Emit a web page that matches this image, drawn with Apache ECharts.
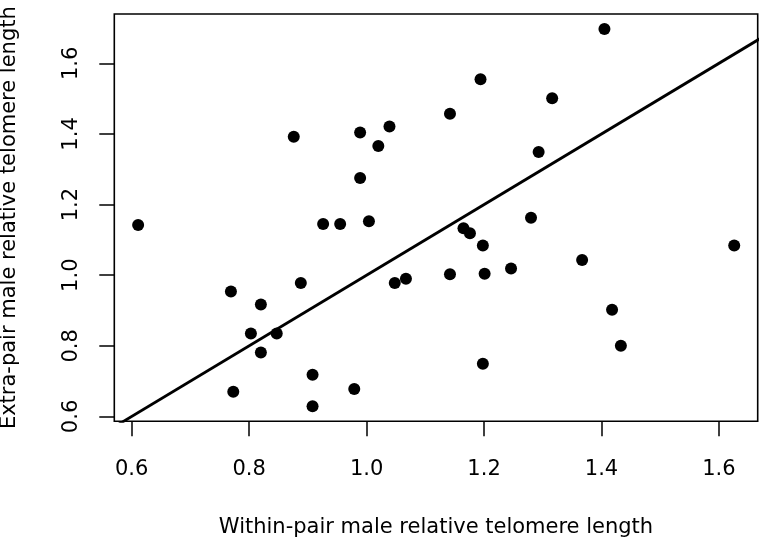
<!DOCTYPE html>
<html>
<head>
<meta charset="utf-8">
<script src="https://cdn.jsdelivr.net/npm/echarts@6/dist/echarts.min.js"></script>
<style>
html,body{margin:0;padding:0;background:#fff;}
#chart{width:759px;height:541px;}
</style>
</head>
<body>
<div id="chart"></div>
<script>
// Within-pair male relative telomere length (x) vs extra-pair male (y)
var withinPair = [0.876,0.989,1.039,1.020,0.989,0.611,0.926,0.955,1.004,1.405,1.194,1.316,1.142,1.293,1.280,0.769,0.888,0.820,1.048,1.067,0.803,0.847,0.820,0.908,0.773,0.979,0.908,1.165,1.176,1.198,1.626,1.367,1.142,1.201,1.246,1.418,1.433,1.198];
var extraPair  = [1.392,1.404,1.421,1.366,1.275,1.142,1.145,1.145,1.153,1.697,1.555,1.501,1.457,1.349,1.163,0.954,0.978,0.917,0.978,0.990,0.835,0.835,0.781,0.718,0.670,0.678,0.629,1.133,1.119,1.084,1.084,1.043,1.003,1.004,1.019,0.902,0.800,0.749];
var xTicks = [0.6,0.8,1.0,1.2,1.4,1.6];
var yTicks = [0.6,0.8,1.0,1.2,1.4,1.6];
var lineEnds = [0.5,1.8]; // reference line y = x
var xTitle = 'Within-pair male relative telomere length';
var yTitle = 'Extra-pair male relative telomere length';

var points = withinPair.map(function(v,i){return [v, extraPair[i]];});
var linePts = lineEnds.map(function(v){return [v,v];});
var FONT = 'DejaVu Sans';

var chart = echarts.init(document.getElementById('chart'), null, {renderer:'canvas'});
chart.setOption({
  animation:false,
  backgroundColor:'#ffffff',
  grid:{left:114.3, right:1.3, top:14, bottom:119.7, containLabel:false, outerBoundsMode:'none', show:true, borderColor:'#000', borderWidth:1.6, backgroundColor:'transparent'},
  xAxis:{
    type:'value', min:0.5704, max:1.666,
    splitLine:{show:false},
    axisLine:{show:false},
    axisTick:{show:true, length:15, inside:false, customValues:xTicks, lineStyle:{color:'#000', width:1.5}},
    axisLabel:{show:true, customValues:xTicks, margin:38, fontFamily:FONT, fontSize:21, color:'#000', formatter:function(v){return v.toFixed(1);}},
    name:xTitle, nameLocation:'middle', nameGap:96,
    nameTextStyle:{fontFamily:FONT, fontSize:21, color:'#000'}
  },
  yAxis:{
    type:'value', min:0.5863, max:1.7397,
    splitLine:{show:false},
    axisLine:{show:false},
    axisTick:{show:true, length:15, inside:false, customValues:yTicks, lineStyle:{color:'#000', width:1.5}},
    axisLabel:{show:true, customValues:yTicks, margin:32, rotate:90, fontFamily:FONT, fontSize:21, color:'#000', formatter:function(v){return v.toFixed(1);}},
    name:yTitle, nameLocation:'middle', nameGap:94,
    nameTextStyle:{fontFamily:FONT, fontSize:21, color:'#000'}
  },
  series:[
    {type:'scatter', data:points, symbol:'circle', symbolSize:12, itemStyle:{color:'#000', opacity:1}, z:3},
    {type:'line', data:linePts, showSymbol:false, symbol:'none', clip:true, lineStyle:{color:'#000', width:2.8}, z:2}
  ]
});
</script>
</body>
</html>
